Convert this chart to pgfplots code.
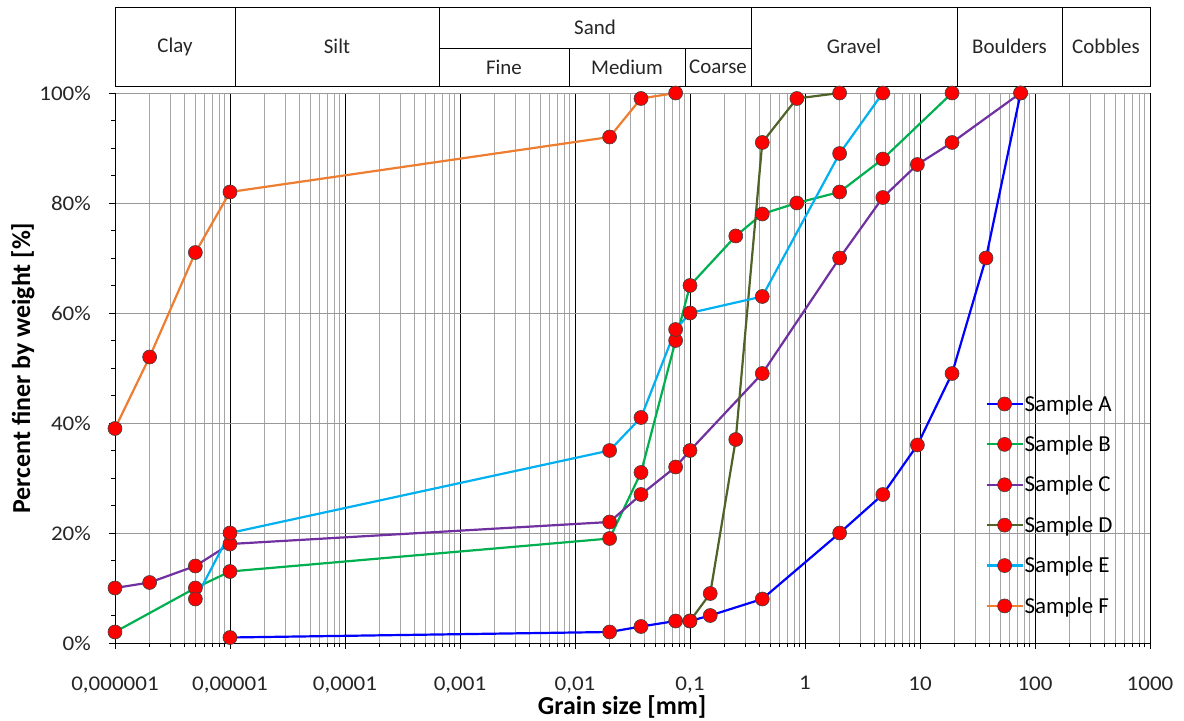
\documentclass[border=0pt]{standalone}
\usepackage{pgfplots}
\pgfplotsset{compat=1.18}
\usepackage{fontspec}
\setmainfont{Carlito}
\definecolor{cA}{RGB}{0,0,255}
\definecolor{cB}{RGB}{0,176,80}
\definecolor{cC}{RGB}{112,48,160}
\definecolor{cD}{RGB}{79,98,40}
\definecolor{cE}{RGB}{0,176,240}
\definecolor{cF}{RGB}{237,125,49}
\begin{document}
\begin{tikzpicture}
\useasboundingbox (-115bp,-78bp) rectangle (1069bp,643bp);
\begin{axis}[
  at={(0,0)}, anchor=south west,
  width=1035bp, height=550bp, scale only axis,
  xmode=log, xmin=1e-6, xmax=1000, ymin=0, ymax=100,
  clip=false,
  axis lines*=left,
  axis line style={black, line width=0.8pt},
  xtick={1e-6,1e-5,1e-4,1e-3,1e-2,1e-1,1,10,100,1000},
  xticklabels={{0,000001},{0,00001},{0,0001},{0,001},{0,01},{0,1},1,10,100,1000},
  minor xtick={2e-6,3e-6,4e-6,5e-6,6e-6,7e-6,8e-6,9e-6,
               2e-5,3e-5,4e-5,5e-5,6e-5,7e-5,8e-5,9e-5,
               2e-4,3e-4,4e-4,5e-4,6e-4,7e-4,8e-4,9e-4,
               2e-3,3e-3,4e-3,5e-3,6e-3,7e-3,8e-3,9e-3,
               0.02,0.03,0.04,0.05,0.06,0.07,0.08,0.09,
               0.2,0.3,0.4,0.5,0.6,0.7,0.8,0.9,
               2,3,4,5,6,7,8,9,
               20,30,40,50,60,70,80,90,
               200,300,400,500,600,700,800,900},
  ytick={0,20,40,60,80,100},
  yticklabels={0\%,20\%,40\%,60\%,80\%,100\%},
  minor ytick={5,10,15,25,30,35,45,50,55,65,70,75,85,90,95},
  xmajorgrids, xminorgrids, ymajorgrids,
  major x grid style={black, line width=0.6pt},
  minor x grid style={black!35, line width=0.6pt},
  major y grid style={black!40, line width=0.8pt},
  tick pos=left,
  tick align=outside,
  major tick length=6bp, minor tick length=4bp,
  tick style={black, line width=0.6pt},
  ticklabel style={font=\fontsize{21}{25}\selectfont, text=black!85, xscale=1.1},
  xticklabel style={yshift=-24bp},
  yticklabel style={xshift=-13bp},
  xlabel={\bfseries Grain size [mm]},
  ylabel={\bfseries Percent finer by weight [\%]},
  label style={font=\fontsize{26}{30}\selectfont},
  xlabel style={at={(axis description cs:0.49,-0.1164)}, anchor=center},
  ylabel style={at={(axis description cs:-0.0889,0.5)}, anchor=center},
  every axis plot/.append style={line width=2.2bp, mark=*, mark size=7bp,
     mark options={fill=red, draw=black!75, line width=0.6pt, solid}},
  legend style={at={(0.838,0.458)}, anchor=north west, draw=none, fill=none,
     font=\fontsize{23}{27}\selectfont, row sep=19bp,
     nodes={inner xsep=1bp}},
  legend cell align=left,
  legend image code/.code={\draw[mark repeat=2,mark phase=2] plot coordinates {(0bp,0bp) (18bp,0bp) (36bp,0bp)};},
]
\addplot[color=cA] coordinates {(1e-5,1) (0.02,2) (0.0375,3) (0.075,4) (0.1,4) (0.15,5) (0.425,8) (2,20) (4.75,27) (9.5,36) (19,49) (37.5,70) (75,100)};
\addlegendentry{Sample A}
\addplot[color=cB] coordinates {(1e-6,2) (5e-6,10) (1e-5,13) (0.02,19) (0.0375,31) (0.075,55) (0.1,65) (0.25,74) (0.425,78) (0.85,80) (2,82) (4.75,88) (19,100)};
\addlegendentry{Sample B}
\addplot[color=cC] coordinates {(1e-6,10) (2e-6,11) (5e-6,14) (1e-5,18) (0.02,22) (0.0375,27) (0.075,32) (0.1,35) (0.425,49) (2,70) (4.75,81) (9.5,87) (19,91) (75,100)};
\addlegendentry{Sample C}
\addplot[color=cD] coordinates {(0.1,4) (0.15,9) (0.25,37) (0.425,91) (0.85,99) (2,100)};
\addlegendentry{Sample D}
\addplot[color=cE] coordinates {(5e-6,8) (1e-5,20) (0.02,35) (0.0375,41) (0.075,57) (0.1,60) (0.425,63) (2,89) (4.75,100)};
\addlegendentry{Sample E}
\addplot[color=cF] coordinates {(1e-6,39) (2e-6,52) (5e-6,71) (1e-5,82) (0.02,92) (0.0375,99) (0.075,100)};
\addlegendentry{Sample F}
% classification header
\draw[black, line width=0.8pt] (rel axis cs:0,1.0127) rectangle (rel axis cs:1,1.1564);
\draw[black, line width=0.8pt] (rel axis cs:0.1159,1.0127) -- (rel axis cs:0.1159,1.1564);
\draw[black, line width=0.8pt] (rel axis cs:0.3130,1.0127) -- (rel axis cs:0.3130,1.1564);
\draw[black, line width=0.8pt] (rel axis cs:0.6145,1.0127) -- (rel axis cs:0.6145,1.1564);
\draw[black, line width=0.8pt] (rel axis cs:0.8135,1.0127) -- (rel axis cs:0.8135,1.1564);
\draw[black, line width=0.8pt] (rel axis cs:0.9150,1.0127) -- (rel axis cs:0.9150,1.1564);
\draw[black, line width=0.8pt] (rel axis cs:0.3130,1.0818) -- (rel axis cs:0.6145,1.0818);
\draw[black, line width=0.8pt] (rel axis cs:0.4386,1.0127) -- (rel axis cs:0.4386,1.0818);
\draw[black, line width=0.8pt] (rel axis cs:0.5507,1.0127) -- (rel axis cs:0.5507,1.0818);
\node[font=\fontsize{21}{25}\selectfont, text=black!85] at (rel axis cs:0.0580,1.0845) {Clay};
\node[font=\fontsize{21}{25}\selectfont, text=black!85] at (rel axis cs:0.2145,1.0845) {Silt};
\node[font=\fontsize{21}{25}\selectfont, text=black!85] at (rel axis cs:0.4638,1.1191) {Sand};
\node[font=\fontsize{21}{25}\selectfont, text=black!85] at (rel axis cs:0.3758,1.0473) {Fine};
\node[font=\fontsize{21}{25}\selectfont, text=black!85] at (rel axis cs:0.4947,1.0473) {Medium};
\node[font=\fontsize{21}{25}\selectfont, text=black!85] at (rel axis cs:0.5826,1.0473) {Coarse};
\node[font=\fontsize{21}{25}\selectfont, text=black!85] at (rel axis cs:0.7140,1.0845) {Gravel};
\node[font=\fontsize{21}{25}\selectfont, text=black!85] at (rel axis cs:0.8643,1.0845) {Boulders};
\node[font=\fontsize{21}{25}\selectfont, text=black!85] at (rel axis cs:0.9575,1.0845) {Cobbles};
\end{axis}
\end{tikzpicture}
\end{document}
